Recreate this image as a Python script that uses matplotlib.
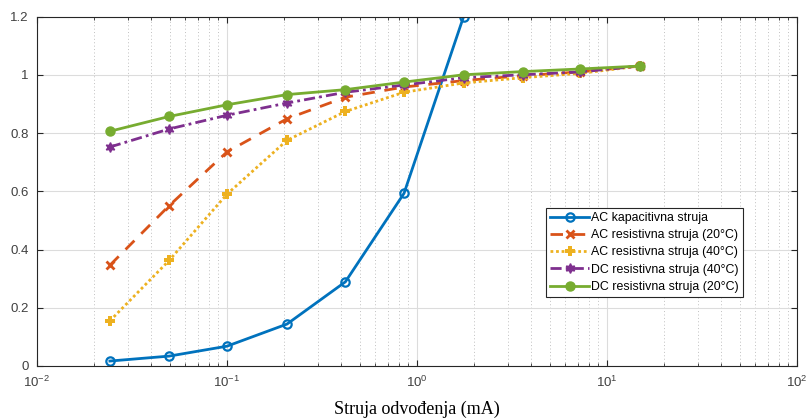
import numpy as np
import matplotlib
matplotlib.use('Agg')
import matplotlib.pyplot as plt
from matplotlib.ticker import FuncFormatter, LogLocator, NullFormatter

plt.rcParams['font.family'] = ['Liberation Sans', 'DejaVu Sans']
plt.rcParams['mathtext.default'] = 'regular'

#### data
struja = [0.0242, 0.0497, 0.1, 0.207, 0.42, 0.855, 1.76, 3.6, 7.25, 14.9]
ac_kap = [0.017, 0.034, 0.068, 0.144, 0.289, 0.593, 1.2]
ac_res_20 = [0.346, 0.551, 0.735, 0.849, 0.923, 0.958, 0.98, 0.997, 1.01, 1.03]
ac_res_40 = [0.155, 0.363, 0.590, 0.775, 0.874, 0.940, 0.972, 0.99, 1.005, 1.03]
dc_res_40 = [0.752, 0.814, 0.861, 0.903, 0.940, 0.965, 0.99, 1.0, 1.01, 1.03]
dc_res_20 = [0.806, 0.857, 0.897, 0.932, 0.949, 0.975, 1.0, 1.011, 1.02, 1.03]

names = ['AC kapacitivna struja', 'AC resistivna struja (20°C)', 'AC resistivna struja (40°C)',
         'DC resistivna struja (40°C)', 'DC resistivna struja (20°C)']
y_ticks = [0, 0.2, 0.4, 0.6, 0.8, 1, 1.2]

fig = plt.figure(figsize=(8.09, 4.19), dpi=100)
ax = fig.add_axes([0.0457, 0.1265, 0.9394, 0.834])

ax.plot(struja[:len(ac_kap)], ac_kap, color='#0072BD', lw=2, ls='-', marker='o',
        ms=6, mfc='none', mew=1.6, label=names[0])
ax.plot(struja, ac_res_20, color='#D95319', lw=2, ls=(0, (4.5, 3.5)), marker='x',
        ms=6, mew=2, label=names[1])
ax.plot(struja, ac_res_40, color='#EDB120', lw=2, ls=(0, (1, 1)), marker='P',
        ms=6.5, mew=0, label=names[2])
ax.plot(struja, dc_res_40, color='#7E2F8E', lw=2, ls=(0, (4, 1.5, 1, 1.5)), marker=(6, 1, 0),
        ms=7, label=names[3])
ax.plot(struja, dc_res_20, color='#77AC30', lw=2, ls='-', marker='o',
        ms=6.5, label=names[4])

ax.set_xscale('log')
ax.set_xlim(1e-2, 1e2)
ax.set_ylim(0, 1.2)
ax.set_yticks(y_ticks)
ax.yaxis.set_major_formatter(FuncFormatter(lambda v, p: '%g' % v))
ax.xaxis.set_minor_locator(LogLocator(base=10, subs=np.arange(2, 10), numticks=20))
ax.xaxis.set_minor_formatter(NullFormatter())

ax.grid(True, which='major', color='#dcdcdc', lw=0.8, ls='-')
ax.grid(True, which='minor', axis='x', color='#c0c0c0', lw=0.7, ls=(0, (1, 2.5)))
ax.set_axisbelow(True)

for s in ax.spines.values():
    s.set_color('#262626')
    s.set_linewidth(0.8)
ax.tick_params(which='both', direction='in', top=True, right=True, colors='#262626',
               labelcolor='#404040', labelsize=9.5)
ax.tick_params(which='major', length=4, pad=6)
ax.tick_params(which='minor', length=2)

ax.set_xlabel('Struja odvođenja (mA)', family='Liberation Serif', fontsize=13,
              color='black', labelpad=8)

leg = ax.legend(loc='lower left', bbox_to_anchor=(0.67, 0.197), fontsize=8.9,
                fancybox=False, framealpha=1, edgecolor='#262626', handlelength=3.1,
                borderpad=0.35, labelspacing=0.42, handletextpad=0.15, borderaxespad=0)
leg.get_frame().set_linewidth(0.8)

plt.savefig('out.png', dpi=100)
plt.close()
